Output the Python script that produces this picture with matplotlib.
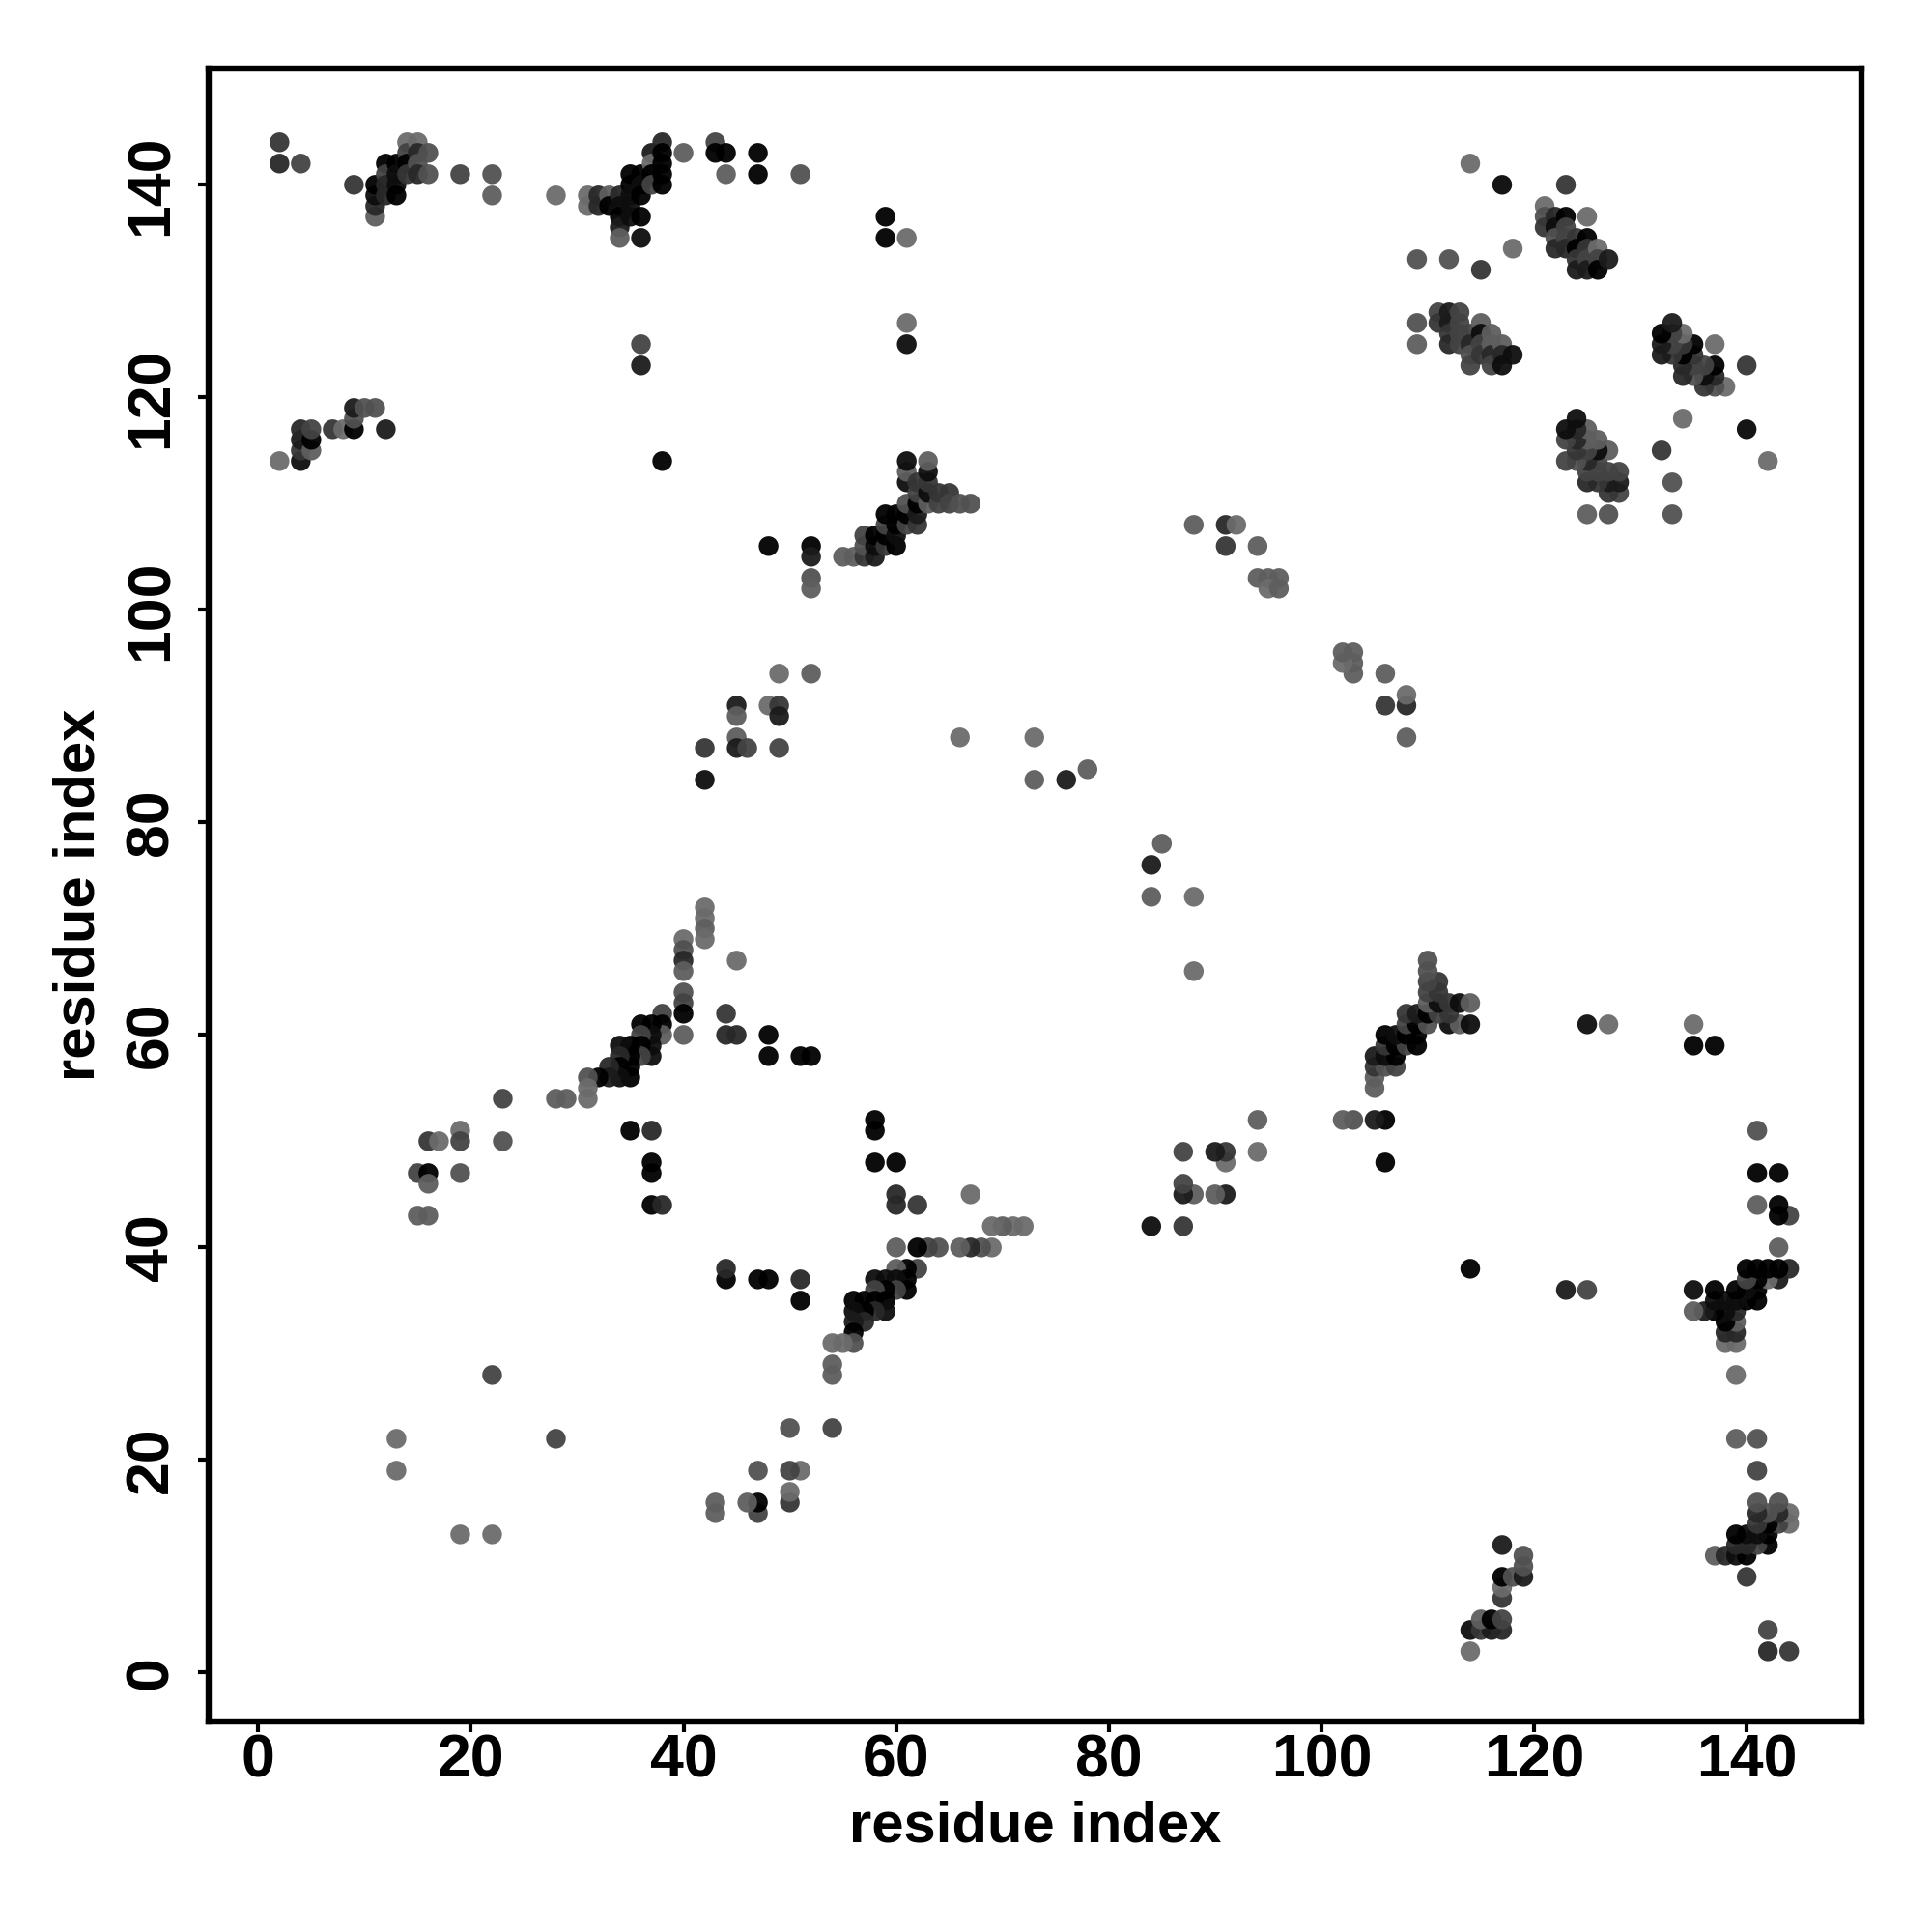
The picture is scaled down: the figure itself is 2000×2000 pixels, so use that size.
"""Residue contact map, drawn from contacts read as (i, j, strength) with i < j."""

import numpy as np
import matplotlib
matplotlib.use("Agg")
import matplotlib.pyplot as plt

plt.rcParams["font.family"] = ["Liberation Sans", "DejaVu Sans"]
plt.rcParams["font.weight"] = "bold"

# N-terminus against the C-terminal helix
cluster_term = [
    (2, 144, .75), (2, 142, .8), (4, 142, .7), (9, 140, .75),
    (11, 137, .6), (11, 138, .8), (11, 139, .9), (11, 140, 1.),
    (12, 142, 1.), (12, 141, .7), (12, 140, .8), (12, 139, .8),
    (13, 142, 1.), (13, 141, .9), (13, 140, .9), (13, 139, 1.),
    (14, 144, .55), (14, 143, .7), (14, 142, 1.), (14, 141, .75),
    (15, 144, .55), (15, 143, .8), (15, 142, .65), (15, 141, .8),
    (16, 143, .65), (16, 141, .65), (19, 141, .7), (22, 141, .65),
    (22, 139, .6), (28, 139, .55),
]

cluster_mid_c = [
    (31, 139, .55), (31, 138, .55), (32, 139, .8), (32, 138, .8),
    (33, 139, .6), (33, 138, 1.), (34, 139, .8), (34, 138, .9),
    (34, 137, 1.), (34, 136, .85), (34, 135, .6), (35, 141, 1.),
    (35, 140, 1.), (35, 139, .9), (35, 138, .9), (35, 137, .9),
    (36, 141, 1.), (36, 140, .9), (36, 139, 1.), (36, 137, 1.),
    (36, 135, .9), (37, 143, .85), (37, 142, .55), (37, 141, 1.),
    (37, 140, .7), (38, 144, .8), (38, 143, 1.), (38, 142, .95),
    (38, 141, .95), (38, 140, 1.), (40, 143, .6), (43, 144, .7),
    (43, 143, 1.), (44, 143, 1.), (44, 141, .6), (47, 143, 1.),
    (47, 141, 1.), (51, 141, .65), (36, 125, .7), (36, 123, .85),
    (59, 137, .95), (59, 135, .95), (61, 135, .55), (61, 127, .55),
    (61, 125, .9), (38, 114, .95), (114, 142, .55), (117, 140, .92),
]

cluster_117 = [
    (2, 114, .55), (4, 114, .9), (4, 115, .75), (4, 116, .85),
    (4, 117, .8), (5, 115, .6), (5, 116, .95), (5, 117, .7),
    (7, 117, .75), (8, 117, .55), (9, 117, .95), (9, 118, .65),
    (9, 119, .85), (10, 119, .65), (11, 119, .65), (12, 117, .85),
]

cluster_121 = [
    (123, 140, .75), (118, 134, .55), (109, 133, .65), (112, 133, .65),
    (115, 132, .75), (121, 138, .55), (121, 137, .65), (121, 136, .75),
    (122, 137, .8), (122, 136, .9), (123, 137, .95), (122, 135, .65),
    (122, 134, .8), (123, 136, .7), (123, 135, .7), (123, 134, .8),
    (124, 135, .75), (124, 134, .95), (124, 133, .75), (124, 132, .85),
    (125, 137, .55), (125, 135, .95), (125, 134, .75), (125, 133, .7),
    (125, 132, .85), (126, 134, .55), (126, 133, .7), (126, 132, .95),
    (127, 133, .85),
]

cluster_109 = [
    (109, 127, .65), (109, 125, .6), (111, 128, .7), (111, 127, .75),
    (112, 128, .85), (112, 127, .85), (112, 126, .75), (112, 125, .8),
    (113, 128, .7), (113, 127, .7), (113, 126, .7), (113, 125, .7),
    (114, 126, .7), (114, 125, .8), (114, 124, .65), (114, 123, .7),
    (115, 127, .6), (115, 126, .9), (115, 125, .7), (115, 124, .75),
    (116, 126, .6), (116, 125, .6), (116, 124, .8), (116, 123, .7),
    (117, 125, .6), (117, 124, .8), (117, 123, .9), (118, 124, .9),
]

cluster_57 = [
    (48, 106, .95), (52, 106, .95), (52, 105, .85), (52, 103, .65),
    (52, 102, .6), (55, 105, .6), (56, 105, .6), (57, 105, .75),
    (57, 106, .65), (57, 107, .7), (58, 105, .85), (58, 106, .9),
    (58, 107, 1.), (59, 106, .75), (59, 107, .95), (59, 108, .7),
    (59, 109, 1.), (60, 106, 1.), (60, 107, .9), (60, 108, 1.),
    (60, 109, 1.), (61, 108, .7), (61, 109, 1.), (61, 110, .65),
    (61, 112, .9), (61, 113, .6), (61, 114, .9), (62, 108, .75),
    (62, 109, .85), (62, 110, 1.), (62, 111, .7), (62, 112, .75),
    (63, 110, .6), (63, 111, .9), (63, 112, .75), (63, 113, .9),
    (63, 114, .6), (64, 110, .7), (64, 111, .75), (65, 111, .75),
    (65, 110, .7), (66, 110, .65), (67, 110, .65),
]

cluster_36 = [
    (42, 72, .55), (42, 71, .55), (42, 70, .6), (42, 69, .55),
    (40, 69, .55), (40, 68, .65), (40, 67, .8), (40, 66, .6),
    (40, 64, .65), (40, 63, .7), (40, 62, .95), (40, 60, .6),
    (45, 67, .55), (44, 62, .75), (44, 60, .8), (45, 60, .8),
    (48, 60, 1.), (48, 58, 1.), (51, 58, 1.), (52, 58, 1.),
    (38, 62, .7), (38, 61, .95), (38, 60, .6), (37, 61, 1.),
    (37, 60, .9), (37, 59, .9), (37, 58, .9), (36, 61, 1.),
    (36, 60, .7), (36, 59, 1.), (36, 58, .7), (35, 59, 1.),
    (35, 58, 1.), (35, 57, 1.), (35, 56, 1.), (34, 59, .9),
    (34, 58, .8), (34, 57, 1.), (34, 56, .9), (33, 57, .8),
    (33, 56, .85), (32, 56, .95), (31, 56, .65), (31, 55, .55),
    (31, 54, .55), (29, 54, .6), (28, 54, .6),
]

cluster_sparse = [
    (23, 54, .7), (23, 50, .65), (19, 51, .55), (19, 50, .7),
    (19, 47, .65), (16, 50, .75), (17, 50, .55), (15, 47, .7),
    (16, 47, .95), (16, 46, .6), (15, 43, .6), (16, 43, .6),
    (35, 51, 1.), (37, 51, .8), (37, 48, 1.), (37, 47, 1.),
    (37, 44, 1.), (38, 44, .8), (22, 28, .7), (13, 22, .55),
    (13, 19, .55), (42, 87, .75), (42, 84, .9), (45, 91, .85),
    (45, 90, .6), (45, 88, .6), (45, 87, .85), (46, 87, .7),
    (48, 91, .55), (49, 91, .75), (49, 90, .85), (49, 94, .55),
    (49, 87, .7), (52, 94, .6), (66, 88, .55), (73, 88, .55),
    (73, 84, .6), (76, 84, .85), (78, 85, .6), (88, 108, .6),
    (91, 108, .8), (92, 108, .55), (91, 106, .75), (94, 106, .6),
    (94, 103, .6), (95, 103, .6), (96, 103, .6), (95, 102, .55),
    (96, 102, .6),
]

clusters = [cluster_term, cluster_mid_c, cluster_117, cluster_121, cluster_109,
            cluster_57, cluster_36, cluster_sparse]

contacts = np.array([c for cl in clusters for c in cl])
res_i, res_j, strength = contacts.T

# dots are nearly opaque, a stronger contact is a darker grey
grey = np.clip((0.95 - strength) / 0.95, 0, 1)
grey = np.concatenate([grey, grey])
colors = np.column_stack([grey, grey, grey, np.full_like(grey, 0.95)])

fig = plt.figure(figsize=(10, 10), dpi=200)
ax = fig.add_axes([0.1078, 0.1090, 0.8557, 0.8553])

# the map is symmetric, each contact shows up on both sides of the diagonal
ax.scatter(np.concatenate([res_i, res_j]), np.concatenate([res_j, res_i]),
           s=54, c=colors, linewidths=0)

ax.set_xlim(-4.7, 150.8)
ax.set_ylim(-4.6, 150.9)
ax.set_xticks(range(0, 141, 20))
ax.set_yticks(range(0, 141, 20))
ax.tick_params(axis="both", length=4, width=1.5, labelsize=22.5)
ax.tick_params(axis="x", pad=0)
ax.tick_params(axis="y", labelrotation=90, pad=6.5)
for lab in ax.get_yticklabels():
    lab.set_va("center")
for spine in ax.spines.values():
    spine.set_linewidth(2.3)

ax.set_xlabel("residue index", fontsize=21.5, fontweight="bold", labelpad=4.2)
ax.set_ylabel("residue index", fontsize=21.5, fontweight="bold", labelpad=6.5)

fig.savefig("out.png", dpi=200)
